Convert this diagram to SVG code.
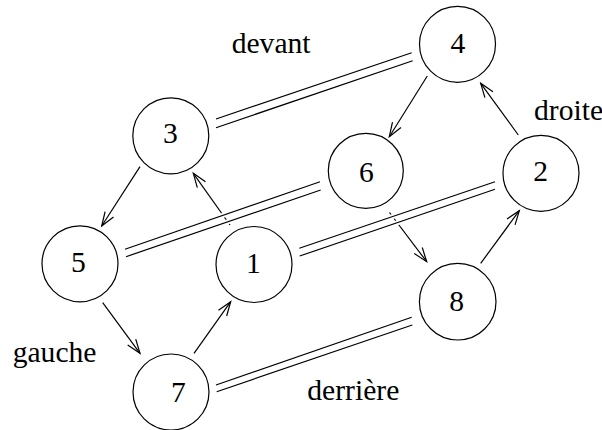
<svg xmlns="http://www.w3.org/2000/svg" width="602" height="430" viewBox="0 0 602 430">
  <style>
    .node circle { fill: none; stroke: #000; stroke-width: 1.2; }
    .node text, .label { font-family: "Liberation Serif", "Times New Roman", serif; font-size: 29.6px; fill: #000; }
    .node text { text-anchor: middle; }
    .arrow { fill: none; stroke: #000; stroke-width: 1.2; marker-end: url(#open); }
    .halo { fill: none; stroke: #fff; stroke-width: 5; }
    .rail { fill: none; stroke: #000; stroke-width: 1.2; }
  </style>
  <defs>
    <marker id="open" viewBox="-15 -7 17 14" markerWidth="17" markerHeight="14" refX="0" refY="0" orient="auto" markerUnits="userSpaceOnUse">
      <path d="M-14,-5 L0,0 L-14,5" fill="none" stroke="#000" stroke-width="1.2"/>
    </marker>
  </defs>

  <rect width="602" height="430" fill="#fff"/>

  <!-- connectors: directed edges, then double edges drawn on top -->
  <g id="connectors">
    <line class="arrow" x1="140" y1="166.7" x2="101.7" y2="226"/>
    <line class="arrow" x1="230" y1="225" x2="193.3" y2="173.3"/>
    <line class="arrow" x1="102.7" y1="302.7" x2="140" y2="353.3"/>
    <line class="arrow" x1="194" y1="353.3" x2="230.7" y2="301.7"/>
    <line class="arrow" x1="427.3" y1="76" x2="389.3" y2="136.7"/>
    <line class="arrow" x1="518.3" y1="135" x2="480.7" y2="83.3"/>
    <line class="arrow" x1="389.5" y1="212.5" x2="426.7" y2="261.7"/>
    <line class="arrow" x1="480.7" y1="263.3" x2="519.3" y2="210.7"/>

    <!-- 3 = 4 -->
    <g>
      <line class="halo" x1="216" y1="119" x2="411.7" y2="52.7"/>
      <line class="halo" x1="216" y1="127.7" x2="412.7" y2="60.7"/>
      <line class="rail" x1="216" y1="119" x2="411.7" y2="52.7"/>
      <line class="rail" x1="216" y1="127.7" x2="412.7" y2="60.7"/>
    </g>
    <!-- 5 = 6 -->
    <g>
      <line class="halo" x1="125" y1="249.3" x2="320" y2="181.7"/>
      <line class="halo" x1="126" y1="256.7" x2="320.7" y2="190"/>
      <line class="rail" x1="125" y1="249.3" x2="320" y2="181.7"/>
      <line class="rail" x1="126" y1="256.7" x2="320.7" y2="190"/>
    </g>
    <!-- 1 = 2 -->
    <g>
      <line class="halo" x1="299.3" y1="248.3" x2="495" y2="181.7"/>
      <line class="halo" x1="299.7" y1="256" x2="495" y2="189.3"/>
      <line class="rail" x1="299.3" y1="248.3" x2="495" y2="181.7"/>
      <line class="rail" x1="299.7" y1="256" x2="495" y2="189.3"/>
    </g>
    <!-- 7 = 8 -->
    <g>
      <line class="halo" x1="216" y1="385" x2="411.7" y2="317.3"/>
      <line class="halo" x1="216.7" y1="391.7" x2="412.3" y2="325"/>
      <line class="rail" x1="216" y1="385" x2="411.7" y2="317.3"/>
      <line class="rail" x1="216.7" y1="391.7" x2="412.3" y2="325"/>
    </g>
  </g>

  <g id="n1" class="node"><circle cx="254" cy="264.5" r="38"/><text x="253.5" y="273.3">1</text></g>
  <g id="n2" class="node"><circle cx="541" cy="173.3" r="38"/><text x="540.7" y="180.7">2</text></g>
  <g id="n3" class="node"><circle cx="170.8" cy="135.8" r="38"/><text x="170.5" y="143.3">3</text></g>
  <g id="n4" class="node"><circle cx="457.5" cy="44.3" r="38"/><text x="458" y="53.3">4</text></g>
  <g id="n5" class="node"><circle cx="80" cy="263.8" r="38"/><text x="78.5" y="271.7">5</text></g>
  <g id="n6" class="node"><circle cx="365.8" cy="170.8" r="37.5"/><text x="366.5" y="181.5">6</text></g>
  <g id="n7" class="node"><circle cx="171" cy="392" r="38"/><text x="178.5" y="401.7">7</text></g>
  <g id="n8" class="node"><circle cx="457.7" cy="301.7" r="38.3"/><text x="456.7" y="311">8</text></g>

  <g id="labels">
    <text class="label" x="231.7" y="53">devant</text>
    <text class="label" x="534" y="120">droite</text>
    <text class="label" x="12.7" y="362">gauche</text>
    <text class="label" x="307.3" y="400">derrière</text>
  </g>
</svg>
